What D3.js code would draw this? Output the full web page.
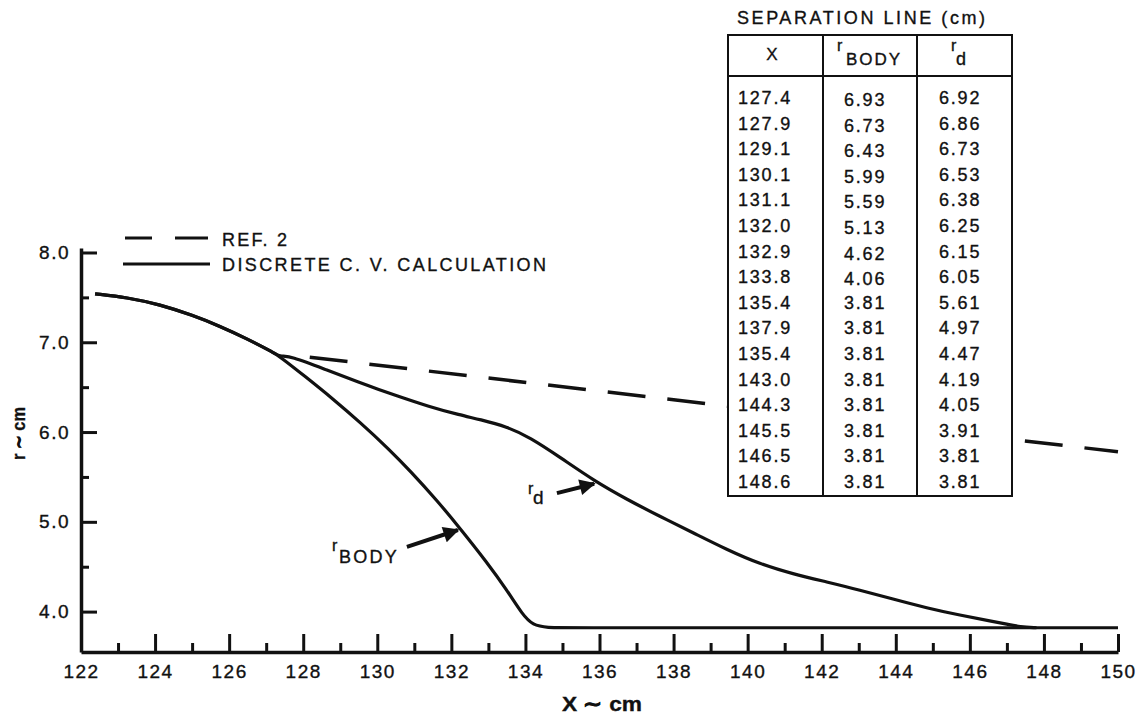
<!DOCTYPE html>
<html><head><meta charset="utf-8">
<script src="https://cdn.jsdelivr.net/npm/d3@7"></script>
<style>
body{margin:0;background:#fff}
svg{display:block}
text{font-family:"Liberation Sans", Arial, Helvetica, sans-serif; fill:#111; stroke:#111; stroke-width:0.35px}
</style>
</head><body>
<svg id="chart" width="1139" height="716"></svg>
<script>
// ---- data ----
const commonX = [122.38,123.24,124.13,125.02,125.75,126.48,127.18,127.37];
const commonR = [7.54,7.50,7.42,7.30,7.18,7.04,6.89,6.84];
const bodyX = [128.05,128.80,129.53,130.34,130.88,131.61,132.23,132.96,133.50,133.93,134.20,134.58,135.2,150.0];
const bodyR = [6.62,6.37,6.11,5.80,5.57,5.24,4.93,4.55,4.24,3.96,3.85,3.82,3.82,3.82];
const rdX = [127.64,128.64,129.53,130.07,130.42,131.42,132.23,132.77,133.50,134.12,134.93,135.88,136.74,137.63,138.52,139.44,140.33,141.22,142.14,143.03,143.92,144.84,145.73,146.62,147.00,147.35,147.8];
const rdR = [6.85,6.69,6.55,6.47,6.42,6.28,6.19,6.14,6.06,5.94,5.72,5.45,5.25,5.06,4.88,4.69,4.53,4.42,4.33,4.24,4.14,4.04,3.96,3.89,3.86,3.83,3.82];
const refX = [127.64,150.0];
const refR = [6.86,5.78];

const xMajorTicks = [122,124,126,128,130,132,134,136,138,140,142,144,146,148,150];
const xMinorTicks = [123,125,127,129,131,133,135,137,139,141,143,145,147,149];
const yMajorTicks = [8,7,6,5,4];
const yTickLabels = ["8.0","7.0","6.0","5.0","4.0"];
const yMinorTicks = [7.5,6.5,5.5,4.5];

const tableTitle = "SEPARATION LINE (cm)";
const tableX = ["127.4","127.9","129.1","130.1","131.1","132.0","132.9","133.8","135.4","137.9","135.4","143.0","144.3","145.5","146.5","148.6"];
const tableBody = ["6.93","6.73","6.43","5.99","5.59","5.13","4.62","4.06","3.81","3.81","3.81","3.81","3.81","3.81","3.81","3.81"];
const tableRd = ["6.92","6.86","6.73","6.53","6.38","6.25","6.15","6.05","5.61","4.97","4.47","4.19","4.05","3.91","3.81","3.81"];

const legendLabels = ["REF. 2","DISCRETE C. V. CALCULATION"];
const xTitle = "X \u223C cm";
const yTitle = "r \u223C cm";

// annotation anchors (data coordinates)
const bodyArrow = {x1:130.80, r1:4.72, x2:132.23, r2:4.92, lx:128.78, lr:4.54};
const rdArrow = {x1:134.85, r1:5.32, x2:135.91, r2:5.43, lx:134.07, lr:5.20};

// ---- scales ----
const svg = d3.select("#chart");
const x = d3.scaleLinear().domain([122,150]).range([81,1118]);
const y = d3.scaleLinear().domain([3.55,8.05]).range([652,248]);
const ink = "#111";

svg.append("defs").append("marker")
  .attr("id","ah").attr("viewBox","0 0 10 10").attr("refX",9).attr("refY",5)
  .attr("markerWidth",5).attr("markerHeight",4).attr("markerUnits","strokeWidth")
  .attr("orient","auto")
  .append("path").attr("d","M0,0L10,5L0,10z").attr("fill",ink);

// ---- axes ----
const fontFam = '"Liberation Sans", Arial, sans-serif';
const xAxisG = svg.append("g").attr("transform",`translate(0,${y(3.55)})`)
  .call(d3.axisBottom(x).tickValues(xMajorTicks).tickSize(-18).tickSizeOuter(0).tickPadding(13).tickFormat(d3.format("d")));
xAxisG.select(".domain").attr("stroke",ink).attr("stroke-width",3.5);
xAxisG.selectAll(".tick line").attr("stroke",ink).attr("stroke-width",3);
xAxisG.selectAll(".tick text").attr("fill",ink).style("font-size","19px").style("letter-spacing","1.5px")
  .style("font-family",fontFam);

const xMinorG = svg.append("g").attr("transform",`translate(0,${y(3.55)})`)
  .call(d3.axisBottom(x).tickValues(xMinorTicks).tickSize(-9).tickSizeOuter(0).tickFormat(""));
xMinorG.select(".domain").remove();
xMinorG.selectAll(".tick line").attr("stroke",ink).attr("stroke-width",3);

const yAxisG = svg.append("g").attr("transform",`translate(${x(122)},0)`)
  .call(d3.axisLeft(y).tickValues(yMajorTicks).tickSize(-16).tickSizeOuter(0).tickPadding(11)
        .tickFormat((d,i)=>yTickLabels[i]));
yAxisG.select(".domain").attr("stroke",ink).attr("stroke-width",3.5);
yAxisG.selectAll(".tick line").attr("stroke",ink).attr("stroke-width",3);
yAxisG.selectAll(".tick text").attr("fill",ink).style("font-size","19px").style("letter-spacing","1.5px")
  .style("font-family",fontFam);

const yMinorG = svg.append("g").attr("transform",`translate(${x(122)},0)`)
  .call(d3.axisLeft(y).tickValues(yMinorTicks).tickSize(-8).tickSizeOuter(0).tickFormat(""));
yMinorG.select(".domain").remove();
yMinorG.selectAll(".tick line").attr("stroke",ink).attr("stroke-width",3);

// axis titles
svg.append("text").attr("x",602).attr("y",711).attr("text-anchor","middle")
  .attr("textLength",80).attr("lengthAdjust","spacingAndGlyphs")
  .style("font-size","21px").style("font-weight","bold").text(xTitle);
svg.append("text").attr("transform","translate(25,433.5) rotate(-90)").attr("text-anchor","middle")
  .attr("textLength",53).attr("lengthAdjust","spacingAndGlyphs")
  .style("font-size","19px").style("font-weight","bold").text(yTitle);

// ---- curves ----
const line = d3.line().x(d=>x(d[0])).y(d=>y(d[1])).curve(d3.curveBasis);
const bodyPts = commonX.map((v,i)=>[v,commonR[i]]).concat(bodyX.map((v,i)=>[v,bodyR[i]]));
const rdPts = commonX.map((v,i)=>[v,commonR[i]]).concat(rdX.map((v,i)=>[v,rdR[i]]));
const refPts = refX.map((v,i)=>[v,refR[i]]);

svg.append("path").datum(refPts).attr("d",d3.line().x(d=>x(d[0])).y(d=>y(d[1])))
  .attr("fill","none").attr("stroke",ink).attr("stroke-width",3.5)
  .attr("stroke-dasharray","38,22").attr("stroke-dashoffset",40);
svg.append("path").datum(bodyPts).attr("d",line)
  .attr("fill","none").attr("stroke",ink).attr("stroke-width",3.2).attr("stroke-linejoin","round");
svg.append("path").datum(rdPts).attr("d",line)
  .attr("fill","none").attr("stroke",ink).attr("stroke-width",3.2).attr("stroke-linejoin","round");

// ---- annotations ----
svg.append("line").attr("x1",x(bodyArrow.x1)).attr("y1",y(bodyArrow.r1))
  .attr("x2",x(bodyArrow.x2)-2).attr("y2",y(bodyArrow.r2)+1)
  .attr("stroke",ink).attr("stroke-width",4).attr("marker-end","url(#ah)");
svg.append("text").attr("x",x(bodyArrow.lx)).attr("y",y(bodyArrow.lr)-12)
  .style("font-size","16px").text("r");
svg.append("text").attr("x",x(bodyArrow.lx)+7).attr("y",y(bodyArrow.lr))
  .style("font-size","18px").style("letter-spacing","2.2px").text("BODY");

svg.append("line").attr("x1",x(rdArrow.x1)).attr("y1",y(rdArrow.r1))
  .attr("x2",x(rdArrow.x2)-2).attr("y2",y(rdArrow.r2)+0.5)
  .attr("stroke",ink).attr("stroke-width",4).attr("marker-end","url(#ah)");
svg.append("text").attr("x",x(rdArrow.lx)).attr("y",y(rdArrow.lr)-10)
  .style("font-size","16px").text("r");
svg.append("text").attr("x",x(rdArrow.lx)+5).attr("y",y(rdArrow.lr))
  .style("font-size","19px").text("d");

// ---- legend ----
const leg = svg.append("g");
leg.append("line").attr("x1",125).attr("x2",208).attr("y1",238).attr("y2",238)
  .attr("stroke",ink).attr("stroke-width",3).attr("stroke-dasharray","27,23,34");
leg.append("line").attr("x1",123).attr("x2",210).attr("y1",264).attr("y2",264)
  .attr("stroke",ink).attr("stroke-width",3);
leg.append("text").attr("x",222).attr("y",246).attr("textLength",65).attr("lengthAdjust","spacing")
  .style("font-size","18px").text(legendLabels[0]);
leg.append("text").attr("x",222).attr("y",271).attr("textLength",324).attr("lengthAdjust","spacing")
  .style("font-size","18px").text(legendLabels[1]);

// ---- table ----
const tb = svg.append("g");
const tL=728, tR=1012, tT=35, tH=76, tB=496, c1=823, c2=917;
tb.append("rect").attr("x",tL).attr("y",tT).attr("width",tR-tL).attr("height",tB-tT)
  .attr("fill","#fff").attr("stroke",ink).attr("stroke-width",2);
tb.append("line").attr("x1",tL).attr("x2",tR).attr("y1",tH).attr("y2",tH).attr("stroke",ink).attr("stroke-width",2);
[c1,c2].forEach(c=>tb.append("line").attr("x1",c).attr("x2",c).attr("y1",tT).attr("y2",tB).attr("stroke",ink).attr("stroke-width",2));
svg.append("text").attr("x",737).attr("y",24).attr("textLength",248).attr("lengthAdjust","spacing")
  .style("font-size","18px").text(tableTitle);
tb.append("text").attr("x",772).attr("y",60).attr("text-anchor","middle").style("font-size","17px").text("X");
tb.append("text").attr("x",837).attr("y",51).style("font-size","16px").text("r");
tb.append("text").attr("x",846).attr("y",65).style("font-size","17px").style("letter-spacing","2px").text("BODY");
tb.append("text").attr("x",951).attr("y",51).style("font-size","16px").text("r");
tb.append("text").attr("x",956).attr("y",65).style("font-size","18px").text("d");

const rowY = i => 104 + i*25.6;
tb.selectAll("text.cx").data(tableX).join("text").attr("class","cx")
  .attr("x",738).attr("y",(d,i)=>rowY(i)).style("font-size","18px").style("letter-spacing","1.8px").text(d=>d);
tb.selectAll("text.cb").data(tableBody).join("text").attr("class","cb")
  .attr("x",844).attr("y",(d,i)=>rowY(i)+(i<8?2:0)).style("font-size","18px").style("letter-spacing","1.8px").text(d=>d);
tb.selectAll("text.cd").data(tableRd).join("text").attr("class","cd")
  .attr("x",939).attr("y",(d,i)=>rowY(i)).style("font-size","18px").style("letter-spacing","1.8px").text(d=>d);
</script>
</body></html>
